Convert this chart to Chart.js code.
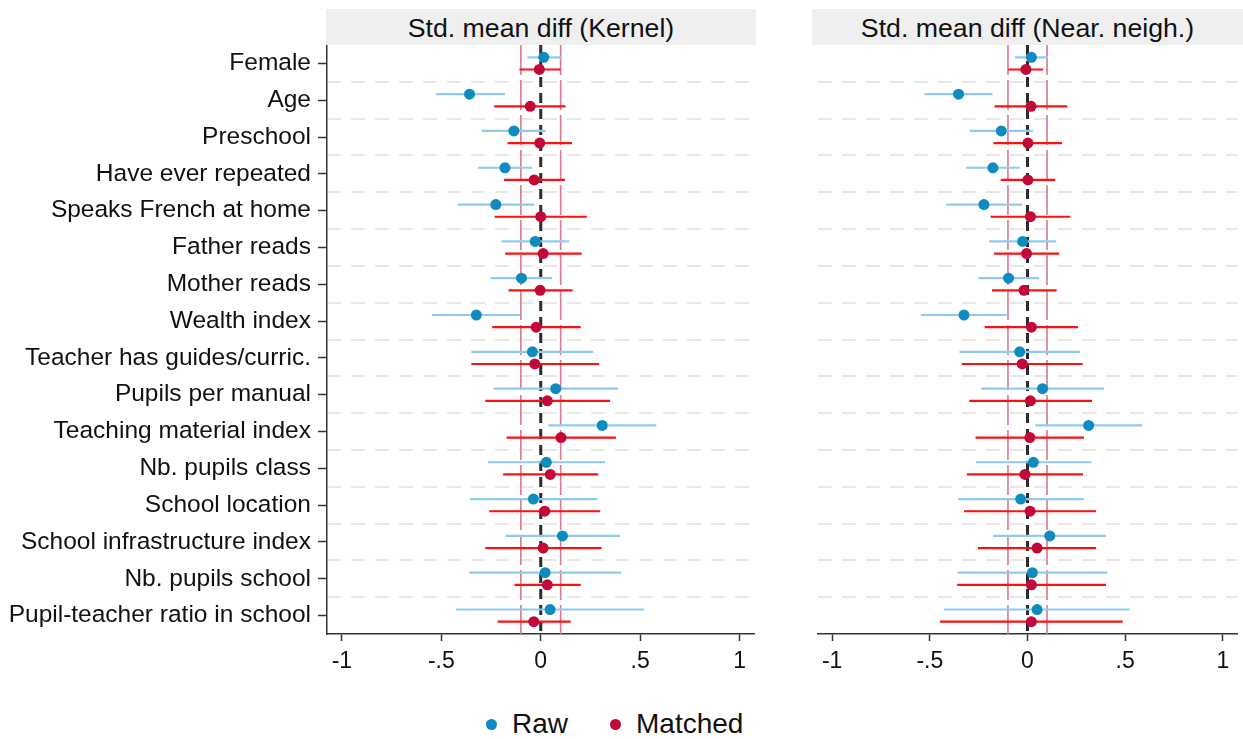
<!DOCTYPE html>
<html>
<head>
<meta charset="utf-8">
<script src="https://cdn.jsdelivr.net/npm/chart.js@4/dist/chart.umd.min.js"></script>
<style>
  body { margin: 0; background: #fff; font-family: "Liberation Sans", Arial, sans-serif; }
  #wrap { position: relative; width: 1243px; height: 739px; overflow: hidden; }
  canvas { position: absolute; top: 0; }
  .head { position: absolute; top: 9px; height: 36px; line-height: 38px; background: #efefef;
          text-align: center; font-size: 26.7px; color: #111; }
  #legend { position: absolute; left: 486px; top: 708px; display: flex; align-items: center;
            font-size: 28px; color: #111; }
  #legend .dot { width: 11px; height: 11px; border-radius: 50%; display: inline-block; margin-right: 15px; }
</style>
</head>
<body>
<div id="wrap">
  <canvas id="kernelChart" width="760" height="680" style="left:0"></canvas>
  <canvas id="nnChart" width="431" height="680" style="left:812px"></canvas>
  <div class="head" style="left:326px;width:430px">Std. mean diff (Kernel)</div>
  <div class="head" style="left:812px;width:431px">Std. mean diff (Near. neigh.)</div>
  <div id="legend">
    <span class="dot" style="background:#0e8bbf"></span><span>Raw</span>
    <span class="dot" style="background:#c2073b;margin-left:42px"></span><span>Matched</span>
  </div>
</div>
<script>
const covariates = ['Female', 'Age', 'Preschool', 'Have ever repeated', 'Speaks French at home',
  'Father reads', 'Mother reads', 'Wealth index', 'Teacher has guides/curric.', 'Pupils per manual',
  'Teaching material index', 'Nb. pupils class', 'School location', 'School infrastructure index',
  'Nb. pupils school', 'Pupil-teacher ratio in school'];

const xTickValues = [-1, -0.5, 0, 0.5, 1];
const xTickLabels = ['-1', '-.5', '0', '.5', '1'];
const refLines = [-0.1, 0.1];

// Kernel matching
const rawK   = [0.015, -0.358, -0.135, -0.180, -0.226, -0.028, -0.097, -0.324, -0.042, 0.075, 0.309, 0.028, -0.037, 0.109, 0.022, 0.047];
const rawKlo = [-0.067, -0.528, -0.296, -0.316, -0.418, -0.197, -0.252, -0.546, -0.349, -0.237, 0.038, -0.266, -0.356, -0.177, -0.359, -0.426];
const rawKhi = [0.104, -0.180, 0.025, -0.043, -0.032, 0.144, 0.057, -0.102, 0.264, 0.389, 0.581, 0.324, 0.286, 0.399, 0.404, 0.520];
const matK   = [-0.007, -0.053, -0.005, -0.033, 0.000, 0.012, -0.003, -0.023, -0.030, 0.033, 0.102, 0.048, 0.020, 0.012, 0.033, -0.035];
const matKlo = [-0.107, -0.234, -0.167, -0.185, -0.232, -0.179, -0.162, -0.244, -0.349, -0.279, -0.172, -0.189, -0.259, -0.279, -0.132, -0.217];
const matKhi = [0.099, 0.125, 0.157, 0.122, 0.232, 0.206, 0.160, 0.201, 0.294, 0.349, 0.378, 0.289, 0.299, 0.306, 0.201, 0.150];

// Nearest neighbour matching
const rawN   = [0.020, -0.353, -0.134, -0.177, -0.223, -0.025, -0.097, -0.325, -0.040, 0.077, 0.313, 0.030, -0.035, 0.114, 0.025, 0.049];
const rawNlo = [-0.065, -0.527, -0.295, -0.315, -0.417, -0.196, -0.251, -0.546, -0.348, -0.236, 0.040, -0.264, -0.355, -0.176, -0.358, -0.427];
const rawNhi = [0.105, -0.179, 0.028, -0.040, -0.027, 0.147, 0.060, -0.100, 0.269, 0.392, 0.587, 0.328, 0.288, 0.402, 0.408, 0.522];
const matN   = [-0.008, 0.018, 0.002, 0.002, 0.015, -0.005, -0.018, 0.020, -0.027, 0.015, 0.012, -0.013, 0.013, 0.049, 0.020, 0.020];
const matNlo = [-0.099, -0.169, -0.174, -0.137, -0.189, -0.171, -0.182, -0.219, -0.336, -0.298, -0.266, -0.310, -0.325, -0.254, -0.360, -0.447];
const matNhi = [0.080, 0.204, 0.177, 0.142, 0.219, 0.162, 0.149, 0.259, 0.283, 0.330, 0.289, 0.284, 0.351, 0.351, 0.402, 0.487];

const FONT = '"Liberation Sans", Arial, sans-serif';
const AXIS = '#333';
const OFF = 0.165;   // vertical shift of raw / matched rows

function ciData(lo, hi, shift) {
    // one segment per covariate, broken by null points
    return lo.flatMap((v, i) => [{x: v, y: i + 1 + shift}, {x: hi[i], y: i + 1 + shift}, {x: null, y: null}]);
}

function vline(x, color, width, dash) {
    return {
        type: 'line', data: [{x: x, y: 0.5}, {x: x, y: covariates.length + 0.5}],
        borderColor: color, borderWidth: width, borderDash: dash, pointRadius: 0, order: 5
    };
}

function setupChart(id, raw, rawLo, rawHi, mat, matLo, matHi, showLabels) {
    const ctx = document.getElementById(id).getContext('2d');
    return new Chart(ctx, {
        type: 'scatter',
        data: {
            datasets: [
                {
                    label: 'Raw', data: raw.map((v, i) => ({x: v, y: i + 1 - OFF})),
                    backgroundColor: '#0e8bbf', borderWidth: 0, pointRadius: 5.5, order: 0
                },
                {
                    label: 'Matched', data: mat.map((v, i) => ({x: v, y: i + 1 + OFF})),
                    backgroundColor: '#c2073b', borderWidth: 0, pointRadius: 5.5, order: 0
                },
                {
                    type: 'line', data: ciData(rawLo, rawHi, -OFF), borderColor: '#8ecbef',
                    borderWidth: 2.2, pointRadius: 0, spanGaps: false, order: 2
                },
                {
                    type: 'line', data: ciData(matLo, matHi, OFF), borderColor: '#ff1010',
                    borderWidth: 2.2, pointRadius: 0, spanGaps: false, order: 1
                },
                vline(refLines[0], '#d9788e', 1.6, [30, 5]),
                vline(refLines[1], '#d9788e', 1.6, [30, 5]),
                vline(0, '#2b2b2b', 3, [10, 6])
            ]
        },
        options: {
            responsive: false,
            animation: false,
            devicePixelRatio: 1,
            events: [],
            layout: { padding: { top: 45, right: showLabels ? 4 : 1, left: 0, bottom: 0 } },
            plugins: { legend: { display: false }, tooltip: { enabled: false } },
            scales: {
                x: {
                    type: 'linear', min: -1.075, max: 1.075,
                    afterBuildTicks: s => { s.ticks = xTickValues.map(v => ({value: v})); },
                    afterFit: s => { s.height = 46; },
                    ticks: {
                        callback: v => xTickLabels[xTickValues.indexOf(v)],
                        font: { family: FONT, size: 23 }, color: '#111', padding: 7, maxRotation: 0
                    },
                    grid: { drawOnChartArea: false, tickLength: 7, tickColor: AXIS, tickWidth: 1.5 },
                    border: { color: AXIS, width: 1.5 }
                },
                y: {
                    type: 'linear', min: 0.5, max: covariates.length + 0.5, reverse: true,
                    display: showLabels, position: 'left',
                    afterBuildTicks: s => { s.ticks = covariates.map((c, i) => ({value: i + 1})); },
                    afterFit: s => { s.width = showLabels ? 327 : 0; },
                    ticks: {
                        callback: v => covariates[v - 1],
                        font: { family: FONT, size: 24.5 }, color: '#111', padding: 7, autoSkip: false
                    },
                    grid: { drawOnChartArea: false, tickLength: 9, tickColor: AXIS, tickWidth: 1.5 },
                    border: { color: AXIS, width: 1.5 }
                },
                yg: {
                    type: 'linear', min: 0.5, max: covariates.length + 0.5, reverse: true,
                    position: 'left',
                    afterBuildTicks: s => { s.ticks = covariates.slice(1).map((c, i) => ({value: i + 1.5})); },
                    afterFit: s => { s.width = 0; },
                    ticks: { display: false },
                    grid: { color: '#e8e8e8', lineWidth: 2, drawTicks: false },
                    border: { display: false, dash: [14, 10] }
                }
            }
        }
    });
}

setupChart('kernelChart', rawK, rawKlo, rawKhi, matK, matKlo, matKhi, true);
setupChart('nnChart', rawN, rawNlo, rawNhi, matN, matNlo, matNhi, false);
</script>
</body>
</html>
